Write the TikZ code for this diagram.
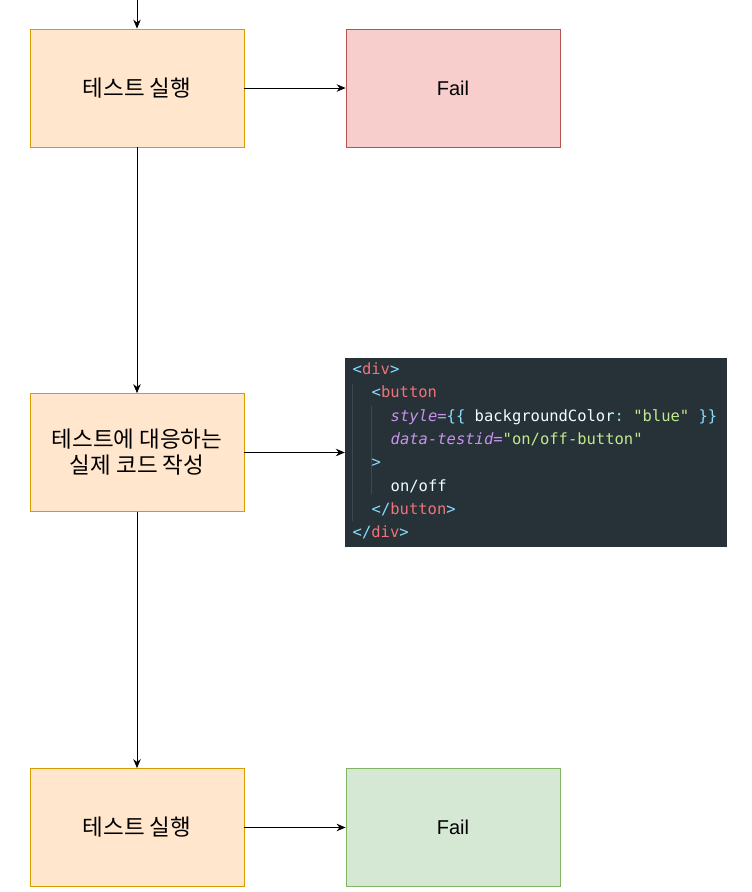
\documentclass[tikz,border=0pt]{standalone}
\usepackage{fontspec}
\setmainfont{Liberation Sans}
\newfontfamily\krfont{Noto Sans CJK KR}
\newfontfamily\codefont{DejaVu Sans Mono}
\usetikzlibrary{arrows.meta}
\frenchspacing
\definecolor{orfill}{HTML}{FFE6CC}
\definecolor{ordraw}{HTML}{D79B00}
\definecolor{rdfill}{HTML}{F8CECC}
\definecolor{rddraw}{HTML}{B85450}
\definecolor{gnfill}{HTML}{D5E8D4}
\definecolor{gndraw}{HTML}{82B366}
\definecolor{codebg}{HTML}{263238}
\definecolor{cdred}{HTML}{F07178}
\definecolor{cdcyan}{HTML}{89DDFF}
\definecolor{cdpurple}{HTML}{C792EA}
\definecolor{cdgreen}{HTML}{C3E88D}
\definecolor{cdwhite}{HTML}{EEFFFF}
\definecolor{cdguide}{HTML}{3B4A52}
\newcommand{\cR}[1]{\textcolor{cdred}{#1}}
\newcommand{\cC}[1]{\textcolor{cdcyan}{#1}}
\newcommand{\cP}[1]{\textcolor{cdpurple}{\itshape #1}}
\newcommand{\cG}[1]{\textcolor{cdgreen}{#1}}
\newcommand{\cW}[1]{\textcolor{cdwhite}{#1}}
\tikzset{
  box/.style={draw, line width=0.8pt, minimum width=214pt, minimum height=118pt, inner sep=0pt, align=center},
  orbox/.style={box, fill=orfill, draw=ordraw, font=\krfont\fontsize{22.5pt}{26pt}\selectfont},
  redbox/.style={box, fill=rdfill, draw=rddraw, font=\fontsize{20pt}{24pt}\selectfont},
  greenbox/.style={box, fill=gnfill, draw=gndraw, font=\fontsize{20pt}{24pt}\selectfont},
  arr/.style={-{Stealth[length=9pt,width=7.5pt]}, line width=0.8pt, black},
  codeline/.style={anchor=base west, inner sep=0pt, font=\codefont\fontsize{15.5pt}{18pt}\selectfont},
  guide/.style={draw=cdguide, line width=0.8pt}
}
\begin{document}
\begin{tikzpicture}[x=1pt,y=-1pt]
\useasboundingbox (0,0) rectangle (752,892);
\coordinate (start) at (137,0);
\node[orbox] (run1) at (137,88) {테스트 실행};
\node[redbox] (fail1) at (453,88) {Fail};
\node[orbox] (code) at (137,452.5) {테스트에 대응하는\\실제 코드 작성};
\node[draw=none, fill=codebg, minimum width=382pt, minimum height=189pt, inner sep=0pt] (snip) at (536,452.5) {};
\node[orbox] (run2) at (137,827.5) {테스트 실행};
\node[greenbox] (fail2) at (453,827.5) {Fail};

\draw[guide] (352.5,384) -- (352.5,521);
\draw[guide] (371.5,406) -- (371.5,494);

\node[codeline] (l1) at (352.5,374) {\cC{<}\cR{div}\cC{>}};
\node[codeline] (l2) at (371.5,397.5) {\cC{<}\cR{button}};
\node[codeline] (l3) at (390.5,421) {\cP{style=}\cC{\{\{} \cW{backgroundColor}\cC{:} \cG{"blue"} \cC{\}\}}};
\node[codeline] (l4) at (390.5,444) {\cP{data-testid}\cP{=}\cG{"on/off-button"}};
\node[codeline] (l5) at (371.5,467) {\cC{>}};
\node[codeline] (l6) at (390.5,491) {\cW{on/off}};
\node[codeline] (l7) at (371.5,514) {\cC{</}\cR{button}\cC{>}};
\node[codeline] (l8) at (352.5,537) {\cC{</}\cR{div}\cC{>}};

\draw[arr] (start) -- (run1.north);
\draw[arr] (run1.east) -- (fail1.west);
\draw[arr] (run1.south) -- (code.north);
\draw[arr] (code.east) -- (snip.west);
\draw[arr] (code.south) -- (run2.north);
\draw[arr] (run2.east) -- (fail2.west);
\end{tikzpicture}
\end{document}
